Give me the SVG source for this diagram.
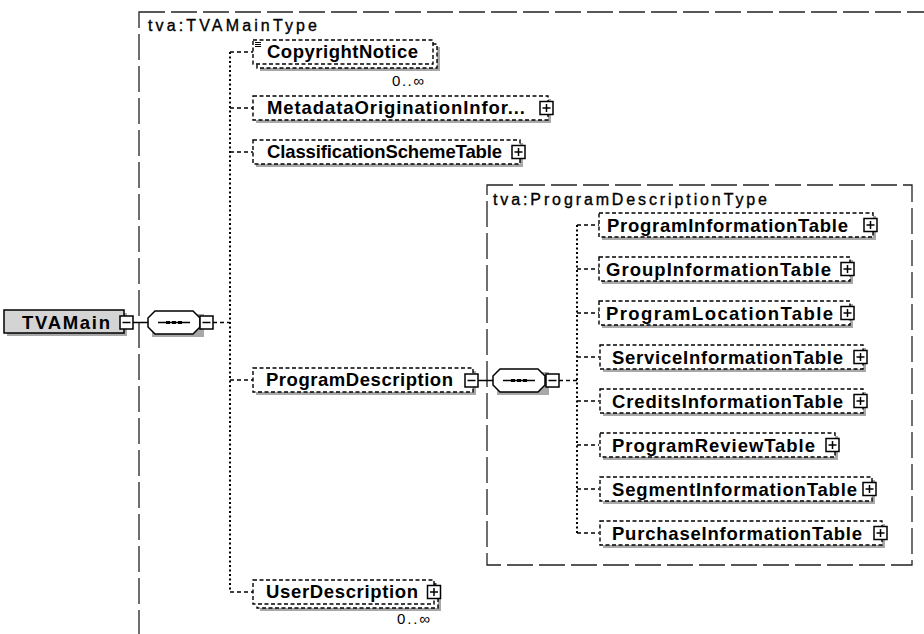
<svg xmlns="http://www.w3.org/2000/svg" xmlns:xlink="http://www.w3.org/1999/xlink" width="924" height="634" viewBox="0 0 924 634">
<style>
.frame{fill:none;stroke:#222;stroke-width:1.3;stroke-dasharray:26 6}
.box{fill:#fff;stroke:#000;stroke-width:1.4;stroke-dasharray:4 2.5}
.shadow{fill:#a8a8a8}
.name{font-family:"Liberation Sans",Arial,sans-serif;font-weight:bold;font-size:18.5px;fill:#000}
.title{font-family:"Liberation Sans",Arial,sans-serif;font-size:16px;fill:#000;stroke:#000;stroke-width:0.35}
.occ{font-family:"Liberation Sans",Arial,sans-serif;font-size:15px;fill:#000}
.vline{fill:none;stroke:#000;stroke-width:2;stroke-dasharray:2 2.5}
.stub{fill:none;stroke:#000;stroke-width:1.5;stroke-dasharray:4 3}
.solid{fill:none;stroke:#000;stroke-width:1.5}
</style>
<defs>
<g id="plus"><rect x="0" y="0" width="13" height="13" fill="#fff" stroke="#000" stroke-width="1.5"/><path d="M6.5 2.5V10.5M2.5 6.5H10.5" stroke="#000" stroke-width="1.5"/></g>
<g id="minus"><rect x="0" y="0" width="13" height="13" fill="#fff" stroke="#000" stroke-width="1.5"/><path d="M2.5 6.5H10.5" stroke="#000" stroke-width="1.5"/></g>
<g id="seq">
<path d="M3 3h52v23h-52z" fill="#a8a8a8" transform="translate(1 0)"/>
<path d="M7 0H45L52 7V16L45 23H7L0 16V7Z" fill="#fff" stroke="#000" stroke-width="1.5"/>
<path d="M10 11.5H42" stroke="#000" stroke-width="1.5"/>
<rect x="18" y="10" width="4" height="3"/><rect x="24" y="10" width="4" height="3"/><rect x="30" y="10" width="4" height="3"/>
</g>
</defs>

<g id="frames">
<rect class="frame" x="139" y="12" width="820" height="660"/>
<text class="title" x="148" y="31" textLength="169" lengthAdjust="spacing">tva:TVAMainType</text>
<rect class="frame" x="487" y="185" width="425" height="380"/>
<text class="title" x="493" y="205" textLength="274" lengthAdjust="spacing">tva:ProgramDescriptionType</text>
</g>

<g id="connectors">
<path class="solid" d="M133 322.5H148"/>
<path class="stub" d="M213 322.5H230"/>
<path class="vline" d="M230 52V592"/>
<path class="stub" d="M230 52H253M230 108H253M230 152H253M230 380H253M230 592H253"/>
<path class="solid" d="M478 380.5H493"/>
<path class="stub" d="M559 380.5H577"/>
<path class="vline" d="M577 225V534"/>
<path class="stub" d="M577 225H599M577 269H599M577 313H599M577 357H599M577 401H599M577 445H599M577 489H599M577 533H599"/>
</g>

<g id="TVAMain">
<rect class="shadow" x="7" y="313" width="120" height="23"/>
<rect x="4" y="310" width="120" height="23" fill="#d4d4d4" stroke="#000" stroke-width="1.5"/>
<text class="name" x="22" y="329" textLength="88" lengthAdjust="spacing">TVAMain</text>
<use xlink:href="#minus" x="120" y="316"/>
</g>

<g id="seq1">
<use xlink:href="#seq" x="148" y="311"/>
<use xlink:href="#minus" x="200" y="316"/>
</g>

<g id="CopyrightNotice">
<rect class="shadow" x="260" y="47" width="180" height="24"/>
<rect class="box" x="257" y="44" width="180" height="24"/>
<rect class="box" x="253" y="40" width="180" height="24"/>
<path d="M255 42.5H261M255 44.5H261M255 46.5H261" stroke="#000" stroke-width="1"/>
<text class="name" x="267" y="58" textLength="151" lengthAdjust="spacing">CopyrightNotice</text>
<text class="occ" x="392" y="86" textLength="32" lengthAdjust="spacing">0..∞</text>
</g>

<g id="MetadataOriginationInfo">
<rect class="shadow" x="256" y="99" width="295" height="24"/>
<rect class="box" x="253" y="96" width="295" height="24"/>
<text class="name" x="267" y="114" textLength="258" lengthAdjust="spacing">MetadataOriginationInfor...</text>
<use xlink:href="#plus" x="540" y="101.5"/>
</g>

<g id="ClassificationSchemeTable">
<rect class="shadow" x="256" y="143" width="267" height="24"/>
<rect class="box" x="253" y="140" width="267" height="24"/>
<text class="name" x="267" y="158" textLength="235" lengthAdjust="spacing">ClassificationSchemeTable</text>
<use xlink:href="#plus" x="512" y="145.5"/>
</g>

<g id="ProgramDescription">
<rect class="shadow" x="256" y="371" width="220" height="24"/>
<rect class="box" x="253" y="368" width="220" height="24"/>
<text class="name" x="266" y="386" textLength="187" lengthAdjust="spacing">ProgramDescription</text>
<use xlink:href="#minus" x="465" y="374"/>
</g>

<g id="seq2">
<use xlink:href="#seq" x="493" y="369"/>
<use xlink:href="#minus" x="546" y="374"/>
</g>

<g id="UserDescription">
<rect class="shadow" x="260" y="587" width="181" height="24"/>
<rect class="box" x="257" y="584" width="181" height="24"/>
<rect class="box" x="253" y="580" width="181" height="24"/>
<text class="name" x="266" y="598" textLength="152" lengthAdjust="spacing">UserDescription</text>
<use xlink:href="#plus" x="427.5" y="585.5"/>
<text class="occ" x="397" y="624" textLength="33" lengthAdjust="spacing">0..∞</text>
</g>

<g id="ProgramInformationTable">
<rect class="shadow" x="602" y="216" width="274" height="24"/>
<rect class="box" x="599" y="213" width="274" height="24"/>
<text class="name" x="607" y="232" textLength="241" lengthAdjust="spacing">ProgramInformationTable</text>
<use xlink:href="#plus" x="864" y="218.5"/>
</g>

<g id="GroupInformationTable">
<rect class="shadow" x="602" y="260" width="251" height="24"/>
<rect class="box" x="599" y="257" width="251" height="24"/>
<text class="name" x="606" y="276" textLength="225" lengthAdjust="spacing">GroupInformationTable</text>
<use xlink:href="#plus" x="841" y="262.5"/>
</g>

<g id="ProgramLocationTable">
<rect class="shadow" x="602" y="304" width="251" height="24"/>
<rect class="box" x="599" y="301" width="251" height="24"/>
<text class="name" x="606" y="320" textLength="227" lengthAdjust="spacing">ProgramLocationTable</text>
<use xlink:href="#plus" x="841" y="306.5"/>
</g>

<g id="ServiceInformationTable">
<rect class="shadow" x="603" y="348" width="263" height="24"/>
<rect class="box" x="600" y="345" width="263" height="24"/>
<text class="name" x="612" y="364" textLength="231" lengthAdjust="spacing">ServiceInformationTable</text>
<use xlink:href="#plus" x="854" y="350.5"/>
</g>

<g id="CreditsInformationTable">
<rect class="shadow" x="603" y="392" width="263" height="24"/>
<rect class="box" x="600" y="389" width="263" height="24"/>
<text class="name" x="612" y="408" textLength="231" lengthAdjust="spacing">CreditsInformationTable</text>
<use xlink:href="#plus" x="854" y="394.5"/>
</g>

<g id="ProgramReviewTable">
<rect class="shadow" x="603" y="436" width="235" height="24"/>
<rect class="box" x="600" y="433" width="235" height="24"/>
<text class="name" x="612" y="452" textLength="203" lengthAdjust="spacing">ProgramReviewTable</text>
<use xlink:href="#plus" x="826" y="438.5"/>
</g>

<g id="SegmentInformationTable">
<rect class="shadow" x="603" y="480" width="272" height="24"/>
<rect class="box" x="600" y="477" width="272" height="24"/>
<text class="name" x="612" y="496" textLength="245" lengthAdjust="spacing">SegmentInformationTable</text>
<use xlink:href="#plus" x="863" y="482.5"/>
</g>

<g id="PurchaseInformationTable">
<rect class="shadow" x="603" y="524" width="282" height="24"/>
<rect class="box" x="600" y="521" width="282" height="24"/>
<text class="name" x="612" y="540" textLength="250" lengthAdjust="spacing">PurchaseInformationTable</text>
<use xlink:href="#plus" x="874" y="526.5"/>
</g>
</svg>
